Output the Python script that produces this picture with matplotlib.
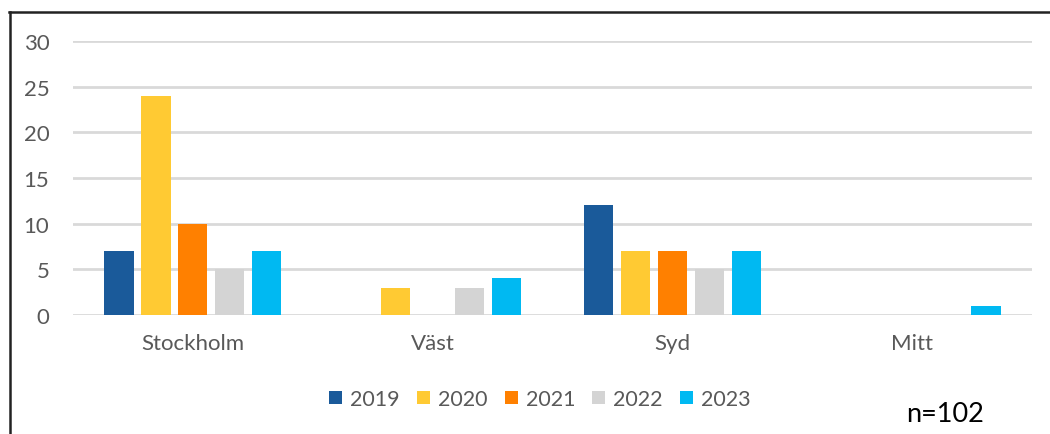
import matplotlib
matplotlib.use("Agg")
import matplotlib.pyplot as plt
import numpy as np
from matplotlib.lines import Line2D
from matplotlib.patches import Patch

categories = ["Stockholm", "Väst", "Syd", "Mitt"]
years = ["2019", "2020", "2021", "2022", "2023"]
values = {
    "2019": [7, 0, 12, 0],
    "2020": [24, 3, 7, 0],
    "2021": [10, 0, 7, 0],
    "2022": [5, 3, 5, 0],
    "2023": [7, 4, 7, 1],
}
colors = ["#1A5A9A", "#FFCA33", "#FF8000", "#D4D4D4", "#00B9F2"]
yticks = [0, 5, 10, 15, 20, 25, 30]
note = "n=102"

plt.rcParams['font.family'] = ['Lato', 'DejaVu Sans']
W, H = 1050, 435
fig = plt.figure(figsize=(W / 100, H / 100), dpi=100)
ax = fig.add_axes([73 / W, 1 - 316 / H, (1032 - 73) / W, (316 - 42) / H])

x = np.arange(len(categories))
pitch = 0.154
width = 0.122
for i, (yr, c) in enumerate(zip(years, colors)):
    ax.bar(x + (i - 2) * pitch, values[yr], width=width, color=c, zorder=3)

ax.set_xlim(-0.5, len(categories) - 0.5)
ax.set_ylim(0, 30)
ax.set_yticks(yticks)
ax.set_xticks(x)
ax.set_xticklabels(categories)
ax.grid(axis='y', color='#D9D9D9', linewidth=2, zorder=0)
ax.set_axisbelow(True)
for s in ax.spines.values():
    s.set_visible(False)
ax.tick_params(axis='both', length=0, labelsize=16, colors='#595959')
ax.tick_params(axis='y', pad=17)
ax.tick_params(axis='x', pad=13)

handles = [Patch(facecolor=c, label=yr) for yr, c in zip(years, colors)]
fig.legend(handles=handles, loc='center', bbox_to_anchor=(540 / W, 1 - 400 / H),
           ncol=5, frameon=False, fontsize=15.5, handlelength=0.6, handleheight=0.6,
           handletextpad=0.37, columnspacing=0.8, labelcolor='#595959')

fig.text(945 / W, 1 - 415 / H, note, ha='center', va='center', fontsize=19.5, color='black')

fig.add_artist(Line2D([9 / W, 1.0], [1 - 13 / H, 1 - 13 / H], transform=fig.transFigure,
                      color='#222222', linewidth=1.8))
fig.add_artist(Line2D([10 / W, 10 / W], [0, 1 - 13 / H], transform=fig.transFigure,
                      color='#222222', linewidth=1.8))

fig.savefig("out.png", dpi=100)
